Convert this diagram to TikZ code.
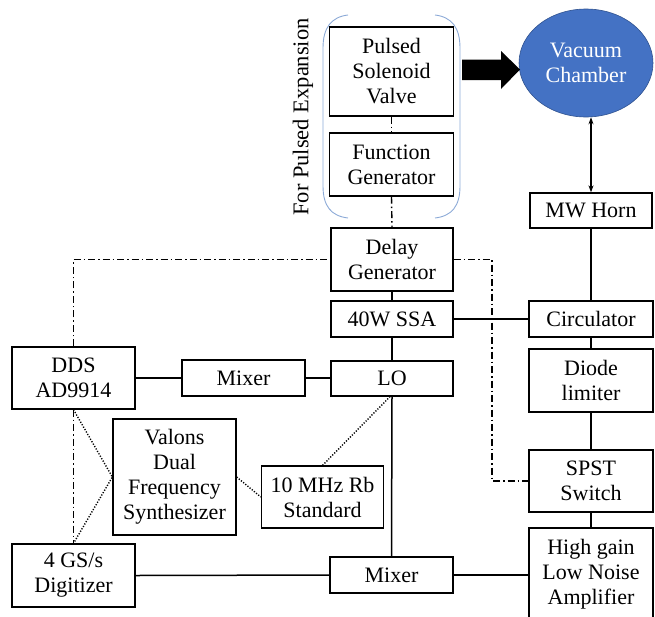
\documentclass[tikz,border=0pt]{standalone}
\usepackage{fontspec}
\setmainfont{Liberation Serif}
\usetikzlibrary{shapes.geometric,arrows.meta}
\definecolor{vcblue}{RGB}{68,114,196}
\definecolor{vcedge}{RGB}{47,82,143}
\definecolor{brk}{RGB}{140,170,215}
\tikzset{
  blk/.style={draw=black, line width=1.3pt, align=center, inner sep=0pt, font=\fontsize{22}{25}\selectfont},
  wire/.style={line width=1.5pt},
  dashdot/.style={line width=1.4pt, dash pattern=on 7pt off 3pt on 1.5pt off 3pt},
  dots/.style={line width=1.4pt, dash pattern=on 1.2pt off 1.6pt},
}
\begin{document}
\begin{tikzpicture}[x=1pt,y=-1pt]
\useasboundingbox (0,0) rectangle (655,616);
% boxes
\node[blk, minimum width=124pt, minimum height=89pt] (psv) at (391.5,71.5) {Pulsed\\Solenoid\\Valve};
\node[blk, minimum width=124pt, minimum height=63pt] (fg) at (391.5,164.5) {Function\\Generator};
\node[blk, minimum width=122pt, minimum height=63pt] (dg) at (392,259.5) {Delay\\Generator};
\node[blk, minimum width=122pt, minimum height=36pt] (ssa) at (392,319) {40W SSA};
\node[blk, minimum width=122pt, minimum height=35pt] (lo) at (392,378.5) {LO};
\node[blk, minimum width=123pt, minimum height=36pt] (mixa) at (243.5,378) {Mixer};
\node[blk, minimum width=123pt, minimum height=62pt] (dds) at (73.5,378) {DDS\\AD9914};
\node[blk, minimum width=123pt, minimum height=116pt] (val) at (174.5,477) {Valons\\Dual\\Frequency\\Synthesizer};
\node[blk, minimum width=122pt, minimum height=62pt] (rb) at (322.5,497) {10 MHz Rb\\Standard};
\node[blk, minimum width=123pt, minimum height=63pt] (dig) at (73.5,575.5) {4 GS/s\\Digitizer};
\node[blk, minimum width=123pt, minimum height=36pt] (mixb) at (391.5,575) {Mixer};
\node[blk, minimum width=122pt, minimum height=35pt] (mw) at (591,210.5) {MW Horn};
\node[blk, minimum width=124pt, minimum height=36pt] (circ) at (591,319) {Circulator};
\node[blk, minimum width=124pt, minimum height=63pt] (diode) at (591,380.5) {Diode\\limiter};
\node[blk, minimum width=124pt, minimum height=62pt] (spst) at (591,481) {SPST\\Switch};
\node[blk, minimum width=124pt, minimum height=92pt] (lna) at (591,574) {High gain\\Low Noise\\Amplifier};
% vacuum chamber
\node[ellipse, fill=vcblue, draw=vcedge, line width=0.6pt, minimum width=134pt, minimum height=108pt, inner sep=0pt, align=center, text=white, font=\fontsize{22}{25}\selectfont] (vc) at (586,63) {Vacuum\\Chamber};
% big arrow
\fill[black] (462,59.5) -- (501,59.5) -- (501,51) -- (520,69.5) -- (501,89) -- (501,80) -- (462,80) -- cycle;
% bracket
\draw[brk, line width=0.9pt] (348,15) .. controls (331,17) and (323,28) .. (323,48) -- (323,186) .. controls (323,206) and (331,216) .. (348,218);
\draw[brk, line width=0.9pt] (435,15) .. controls (452,17) and (460,28) .. (460,48) -- (460,186) .. controls (460,206) and (452,216) .. (435,218);
\node[rotate=90, inner sep=0pt, font=\fontsize{22.5}{26}\selectfont] (fpe) at (303,117) {For Pulsed Expansion};
% connectors
\draw[dashdot] (psv.south) -- (fg.north);
\draw[dashdot] (fg.south) -- (dg.north);
\draw[dashdot] (dds.north) |- (dg.west);
\coordinate (k1) at (492,259.5);
\draw[dashdot] (dg.east) -- (k1) |- (spst.west);
\draw[dashdot] (dds.south) -- (dig.north);
\draw[wire] (dg.south) -- (ssa.north);
\draw[wire] (ssa.south) -- (lo.north);
\draw[wire] (lo.south) -- (mixb.north);
\draw[wire] (dds.east) -- (mixa.west);
\draw[wire] (mixa.east) -- (mixa.east -| lo.west);
\draw[wire] (ssa.east) -- (circ.west);
\draw[wire] (mw.south) -- (circ.north);
\draw[wire] (circ.south) -- (diode.north);
\draw[wire] (diode.south) -- (spst.north);
\draw[wire] (spst.south) -- (lna.north);
\draw[wire] (lna.west |- mixb.east) -- (mixb.east);
\draw[wire] (dig.east) -- (mixb.west);
\draw[line width=1.3pt, {Stealth[length=7pt,width=5pt]}-{Stealth[length=7pt,width=5pt]}] (mw.north) -- (mw.north |- vc.south);
% dotted
\draw[dots] (dds.south) -- (val.west) -- (dig.north);
\draw[dots] (val.east) -- (rb.west);
\draw[dots] (rb.north) -- ([xshift=-2pt]lo.south);
\end{tikzpicture}
\end{document}
